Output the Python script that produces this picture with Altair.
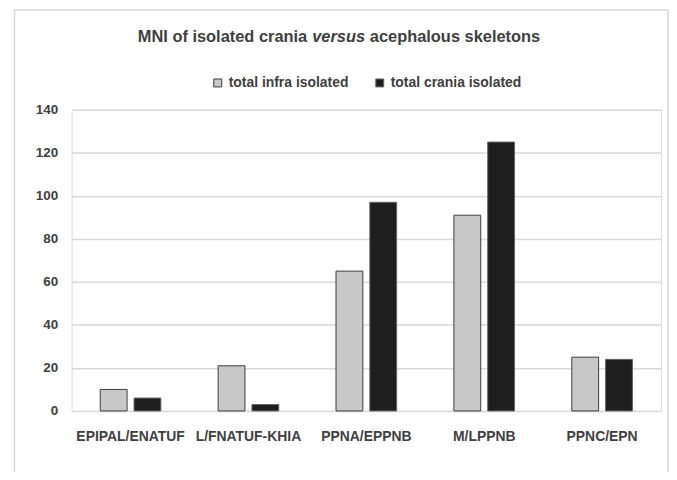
import altair as alt
import pandas as pd

categories = ["EPIPAL/ENATUF", "L/FNATUF-KHIA", "PPNA/EPPNB", "M/LPPNB", "PPNC/EPN"]
series_names = ["total infra isolated", "total crania isolated"]
infra = [10, 21, 65, 91, 25]
crania = [6, 3, 97, 125, 24]
y_ticks = [0, 20, 40, 60, 80, 100, 120, 140]

rows = []
for c, a, b in zip(categories, infra, crania):
    rows.append({"period": c, "series": series_names[0], "value": a})
    rows.append({"period": c, "series": series_names[1], "value": b})
df = pd.DataFrame(rows)

FONT = "Liberation Sans"
TXT = "#404040"
W, H = 593, 303

bars = alt.Chart(df).mark_bar(strokeWidth=1).encode(
    x=alt.X("period:N", sort=categories, title=None,
            scale=alt.Scale(paddingInner=0, paddingOuter=0),
            axis=alt.Axis(labelAngle=0, ticks=False, domain=False, labelFont=FONT,
                          labelFontSize=14, labelFontWeight="bold", labelColor=TXT,
                          labelPadding=19)),
    xOffset=alt.XOffset("series:N", sort=series_names,
                        scale=alt.Scale(paddingInner=0.206, paddingOuter=0.847)),
    y=alt.Y("value:Q", title=None,
            scale=alt.Scale(domain=[0, 140], nice=False),
            axis=alt.Axis(values=y_ticks, ticks=False, domain=False, labelFont=FONT,
                          labelFontSize=13.5, labelFontWeight="bold", labelColor=TXT,
                          labelPadding=14, gridColor="#d9d9d9", gridWidth=1.5)),
    color=alt.Color("series:N", sort=series_names,
                    scale=alt.Scale(domain=series_names, range=["#c8c8c8", "#1e1e1e"]),
                    legend=alt.Legend(title=None, orient="none", direction="horizontal",
                                      legendX=140, legendY=-34, symbolType="square",
                                      symbolSize=64, symbolStrokeColor="#404040",
                                      symbolStrokeWidth=1, labelFont=FONT, labelFontSize=14,
                                      labelFontWeight="bold", labelColor=TXT,
                                      labelOffset=4, columnPadding=24)),
    stroke=alt.Stroke("series:N", sort=series_names,
                      scale=alt.Scale(domain=series_names, range=["#3c3c3c", "#666666"]),
                      legend=None),
)

one = alt.Data(values=[{"a": 1}])

border = alt.Chart(one).mark_rect(fillOpacity=0, stroke="#d9d9d9", strokeWidth=1.5, clip=False).encode(
    x=alt.value(-57.5), x2=alt.value(600), y=alt.value(-100.5), y2=alt.value(400)
)

title_style = dict(font=FONT, fontSize=16.5, fontWeight="bold", color=TXT, baseline="alphabetic")
t1 = alt.Chart(one).mark_text(align="right", **title_style).encode(
    x=alt.value(237), y=alt.value(-68), text=alt.value("MNI of isolated crania"))
t2 = alt.Chart(one).mark_text(align="left", fontStyle="italic", **title_style).encode(
    x=alt.value(242), y=alt.value(-68), text=alt.value("versus"))
t3 = alt.Chart(one).mark_text(align="left", **title_style).encode(
    x=alt.value(300), y=alt.value(-68), text=alt.value("acephalous skeletons"))

chart = alt.layer(border, bars, t1, t2, t3).properties(
    width=W, height=H,
    autosize=alt.AutoSizeParams(type="none"),
    padding={"left": 64, "top": 101, "right": 8, "bottom": 60},
).configure_view(stroke=None).configure(background="white")

chart.save("out.html", embed_options={"renderer": "svg", "actions": False})
